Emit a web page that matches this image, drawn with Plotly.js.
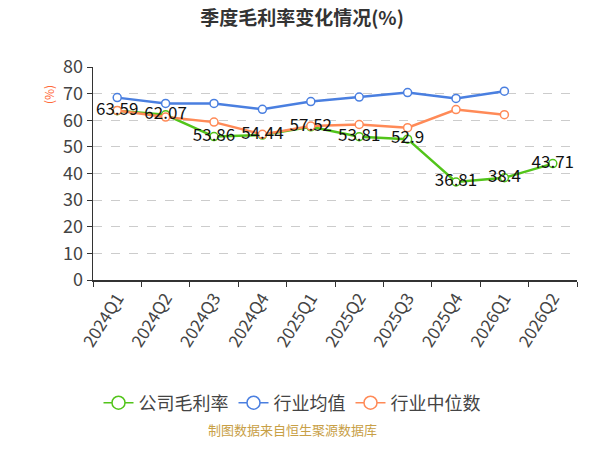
<!DOCTYPE html>
<html>
<head>
<meta charset="utf-8">
<script src="https://cdn.plot.ly/plotly-3.0.1.min.js"></script>
<style>
  body { margin: 0; background: #fff; }
  #chart { width: 600px; height: 450px; }
</style>
</head>
<body>
<div id="chart"></div>
<script>
// quarters on the x axis
var quarters = ['2024Q1', '2024Q2', '2024Q3', '2024Q4', '2025Q1',
                '2025Q2', '2025Q3', '2025Q4', '2026Q1', '2026Q2'];

// company gross margin (labelled in the chart)
var companyMargin = [63.59, 62.07, 53.86, 54.44, 57.52, 53.81, 52.9, 36.81, 38.4, 43.71];
// industry average
var industryMean = [68.5, 66.3, 66.3, 64.1, 67.0, 68.7, 70.4, 68.2, 70.9, null];
// industry median
var industryMedian = [63.7, 61.2, 59.3, 54.7, 57.8, 58.4, 57.2, 64.0, 62.1, null];

var seriesNames = ['公司毛利率', '行业均值', '行业中位数'];
var seriesColors = ['#52c41a', '#4a7fe0', '#ff8a57'];

var font = '"Noto Sans CJK SC", "Noto Sans", sans-serif';

function lineTrace(i, y) {
  return {
    x: quarters,
    y: y,
    name: seriesNames[i],
    type: 'scatter',
    mode: 'lines+markers',
    line: {color: seriesColors[i], width: 2.5},
    marker: {size: 8, color: '#fff', line: {color: seriesColors[i], width: 1.5}},
    showlegend: false,
    hoverinfo: 'x+y'
  };
}

// legend-only entries: thin line, big open circle
function legendTrace(i) {
  return {
    x: [null],
    y: [null],
    name: seriesNames[i],
    type: 'scatter',
    mode: 'lines+markers',
    line: {color: seriesColors[i], width: 1.5},
    marker: {size: 13, color: '#fff', line: {color: seriesColors[i], width: 1.5}},
    hoverinfo: 'skip'
  };
}

let data = [
  lineTrace(0, companyMargin),
  lineTrace(1, industryMean),
  lineTrace(2, industryMedian),
  {
    // value labels on top of everything
    x: quarters,
    y: companyMargin,
    type: 'scatter',
    mode: 'text',
    text: companyMargin.map(String),
    textposition: 'middle center',
    textfont: {family: font, size: 17, color: '#111'},
    showlegend: false,
    hoverinfo: 'skip'
  },
  legendTrace(0),
  legendTrace(1),
  legendTrace(2)
];

let layout = {
  width: 600,
  height: 450,
  margin: {l: 93, r: 23, t: 67, b: 170},
  paper_bgcolor: '#fff',
  plot_bgcolor: '#fff',
  font: {family: font, color: '#333'},
  title: {
    text: '<b>季度毛利率变化情况(%)</b>',
    font: {family: font, size: 19, color: '#333'},
    x: 302 / 600, xref: 'container', xanchor: 'center',
    y: 1 - 18 / 450, yref: 'container', yanchor: 'middle'
  },
  xaxis: {
    type: 'category',
    range: [-0.5, 9.5],
    tickson: 'boundaries',
    ticks: 'outside',
    ticklen: 5,
    tickcolor: '#333',
    showline: true,
    linecolor: '#333',
    linewidth: 1.5,
    showgrid: false,
    tickangle: -58,
    tickfont: {family: font, size: 17, color: '#444'},
    fixedrange: true
  },
  yaxis: {
    range: [0, 80],
    dtick: 10,
    ticks: 'outside',
    ticklen: 5,
    tickcolor: '#333',
    showline: true,
    linecolor: '#333',
    linewidth: 1.5,
    gridcolor: '#ccc',
    griddash: 'dash',
    zeroline: false,
    tickfont: {family: font, size: 18, color: '#444'},
    fixedrange: true
  },
  legend: {
    orientation: 'h',
    xref: 'container', x: 292 / 600, xanchor: 'center',
    yref: 'container', y: 1 - 403 / 450, yanchor: 'middle',
    font: {family: font, size: 18, color: '#444'},
    itemsizing: 'trace'
  },
  annotations: [
    {
      text: '(%)',
      xref: 'paper', yref: 'paper',
      x: (38 - 93) / 484, y: (280 - 83) / 213,
      textangle: -90,
      showarrow: false,
      font: {family: font, size: 12, color: '#ff6a3a'}
    },
    {
      text: '制图数据来自恒生聚源数据库',
      xref: 'paper', yref: 'paper',
      x: (292 - 93) / 484, y: (280 - 441) / 213,
      showarrow: false,
      font: {family: font, size: 13, color: '#c8a046'}
    }
  ],
  showlegend: true
};

Plotly.newPlot('chart', data, layout, {displayModeBar: false, staticPlot: true});
</script>
</body>
</html>
